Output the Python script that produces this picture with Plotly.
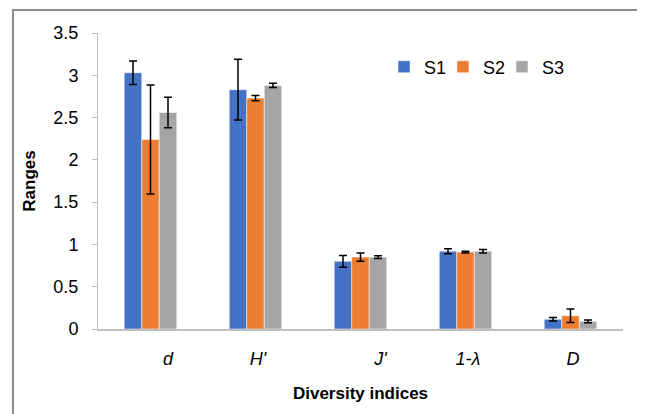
import plotly.graph_objects as go

categories = ["d", "H'", "J'", "1-λ", "D"]
tick_labels = ["\u00a0" * 7 + "d", "\u00a0" + "H'", "\u00a0" * 8 + "J'", "\u00a0" + "1-λ", "\u00a0" + "D"]
series_names = ["S1", "S2", "S3"]
s1 = [3.03, 2.83, 0.80, 0.92, 0.115]
s2 = [2.24, 2.73, 0.85, 0.91, 0.157]
s3 = [2.56, 2.88, 0.85, 0.92, 0.09]
s1_err = [0.14, 0.36, 0.07, 0.03, 0.02]
s2_err = [0.645, 0.03, 0.05, 0.01, 0.08]
s3_err = [0.18, 0.025, 0.015, 0.02, 0.015]
colors = ["#4472C4", "#ED7D31", "#A5A5A5"]
yticks = [0, 0.5, 1, 1.5, 2, 2.5, 3, 3.5]

FONT = "Arial, Liberation Sans, sans-serif"

# page body has an 8px default margin; figure is sized to fit the 645x414 window
W, H = 637, 406
L, T = 90, 25
PW, PH = 525, 296

legend_ids = ["legend", "legend2", "legend3"]
legend_x = [0.5448, 0.6571, 0.7695]

fig = go.Figure()
for name, vals, errs, col, lid in zip(series_names, [s1, s2, s3], [s1_err, s2_err, s3_err], colors, legend_ids):
    fig.add_trace(go.Bar(
        x=categories, y=vals, name=name, legend=lid, showlegend=True,
        marker=dict(color=col, line=dict(color="rgba(255,255,255,0.5)", width=1)),
        error_y=dict(type="data", array=errs, visible=True, color="black", thickness=1.5, width=4),
    ))

legend_common = dict(orientation="h", y=0.885, xanchor="left", yanchor="middle",
                     font=dict(size=18, family=FONT), bgcolor="rgba(0,0,0,0)")

fig.update_layout(
    width=W, height=H,
    showlegend=True,
    margin=dict(l=L, r=W - L - PW, t=T, b=H - T - PH, autoexpand=False),
    paper_bgcolor="white", plot_bgcolor="white",
    barmode="group", bargap=0.5, bargroupgap=0,
    font=dict(family=FONT, color="black", size=18),
    legend=dict(x=legend_x[0], **legend_common),
    legend2=dict(x=legend_x[1], **legend_common),
    legend3=dict(x=legend_x[2], **legend_common),
    xaxis=dict(
        tickmode="array", tickvals=categories, ticktext=["<i>%s</i>" % t for t in tick_labels],
        tickfont=dict(size=18, family=FONT), showline=True, linecolor="#BFBFBF", linewidth=2,
        ticks="", showgrid=False, zeroline=False, ticklabelstandoff=12,
        title=dict(text="<b>Diversity indices</b>", font=dict(size=17, family=FONT), standoff=20),
    ),
    yaxis=dict(
        range=[0, 3.5], tickmode="array", tickvals=yticks,
        tickfont=dict(size=18, family=FONT), showline=True, linecolor="#BFBFBF", linewidth=1,
        ticks="outside", ticklen=5, tickcolor="#BFBFBF", showgrid=False, zeroline=False,
        ticklabelstandoff=10,
        title=dict(text="<b>Ranges</b>", font=dict(size=17, family=FONT), standoff=13),
    ),
    shapes=[dict(type="rect", xref="paper", yref="paper",
                 x0=(5 - L) / PW, x1=(635 - L) / PW,
                 y0=-(H + 10 - T - PH) / PH, y1=(T + PH - 2) / PH,
                 line=dict(color="#8C8C8C", width=2), fillcolor="rgba(0,0,0,0)", layer="below")],
)

fig.write_html("out.html")
